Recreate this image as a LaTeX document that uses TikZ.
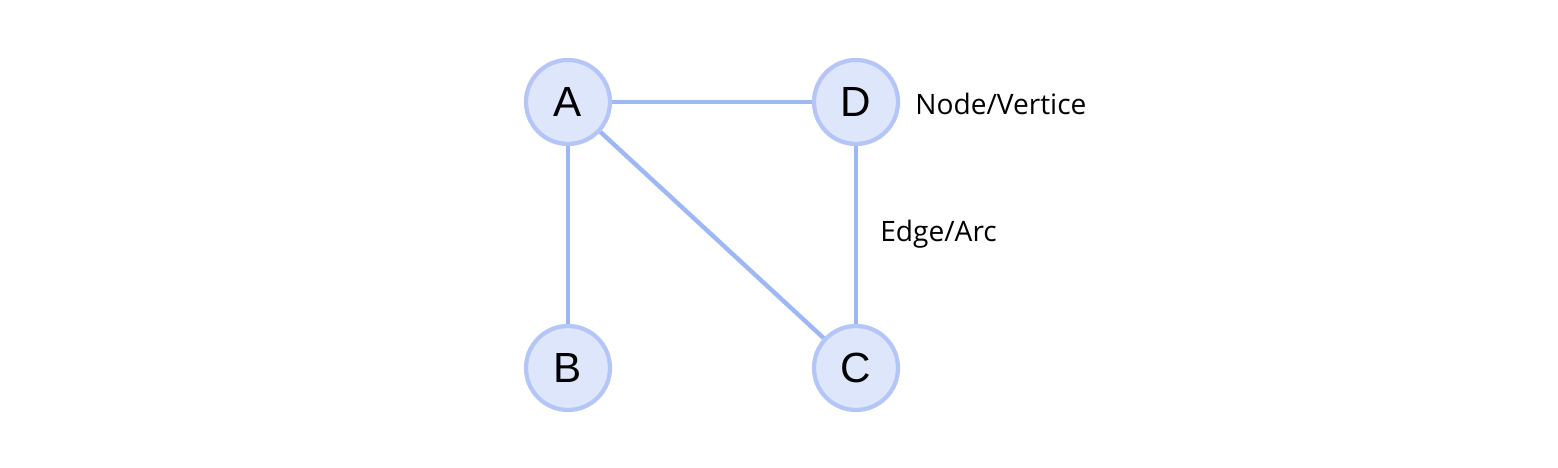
\documentclass[tikz,border=0pt]{standalone}
\usepackage{fontspec}
\setmainfont{Liberation Sans}
\newfontfamily\labelfont{Open Sans}
\definecolor{vertexfill}{HTML}{DEE6FB}
\definecolor{vertexline}{HTML}{B4C6F8}
\definecolor{edgeline}{HTML}{9DB8F5}
\tikzset{
  vertex/.style={circle, draw=vertexline, fill=vertexfill, line width=2.4pt,
    minimum size=1.68cm, inner sep=0pt, font=\fontsize{24}{28}\selectfont},
  link/.style={draw=edgeline, line width=2.5pt},
  tag/.style={anchor=west, inner sep=0pt, font=\labelfont\fontsize{16}{19}\selectfont}
}
\begin{document}
\begin{tikzpicture}
% Canvas
\useasboundingbox (0,0) rectangle (31.16,9.36);

% Vertices
\node[vertex] (A) at (11.36, 7.32) {A};
\node[vertex] (D) at (17.12, 7.32) {D};
\node[vertex] (B) at (11.36, 2.00) {B};
\node[vertex] (C) at (17.12, 2.00) {C};

% Edges
\draw[link] (A) -- (D);
\draw[link] (A) -- (B);
\draw[link] (A) -- (C);
\draw[link] (D) -- (C);

% Labels
\node[tag] (vtag) at (18.30, 7.28) {Node/Vertice};
\node[tag] (etag) at (17.60, 4.68) {Edge/Arc};
\end{tikzpicture}
\end{document}
